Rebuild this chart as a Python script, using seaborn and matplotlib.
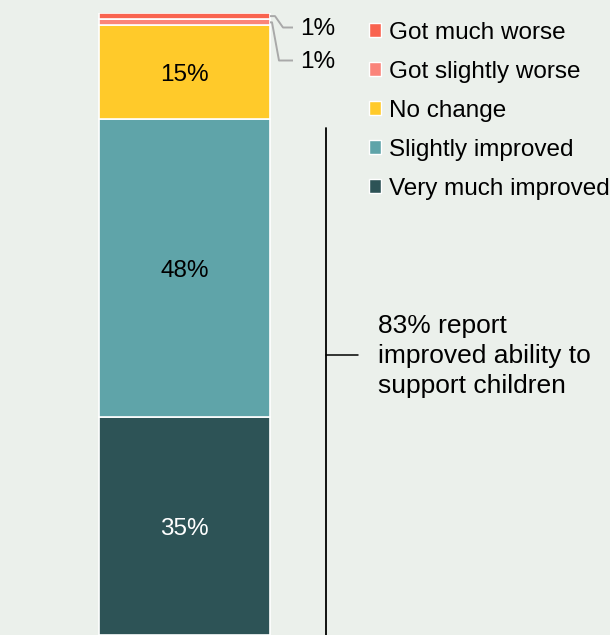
import matplotlib
matplotlib.use("Agg")
import matplotlib.pyplot as plt
from matplotlib.patches import Patch
import seaborn as sns

# Survey responses: change in ability to support children (% of respondents)
categories = ["Very much improved", "Slightly improved", "No change",
              "Got slightly worse", "Got much worse"]
shares = [35, 48, 15, 1, 1]
share_labels = ["35%", "48%", "15%", "1%", "1%"]
colors = ["#2d5356", "#5fa4a9", "#ffca2a", "#fa847a", "#f9634f"]
label_colors = ["white", "black", "black", "black", "black"]
improved_note = "83% report\nimproved ability to\nsupport children"

BG = "#ebf0eb"

sns.set_theme(style="white")
plt.rcParams["font.family"] = ["Liberation Sans", "DejaVu Sans"]
plt.rcParams["text.color"] = "black"

W, H = 610, 635
fig = plt.figure(figsize=(W / 100, H / 100), dpi=100, facecolor=BG)
ax = fig.add_axes([0, 0, 1, 1 - 13 / H])
ax.set_facecolor(BG)

# stacked single bar, one seaborn call per segment
bar_w = 0.8
bottom = 0
bottoms = []
for cat, val, col in zip(categories, shares, colors):
    sns.barplot(x=["All"], y=[val], bottom=bottom, color=col, width=bar_w,
                edgecolor="white", linewidth=1.2, saturation=1, ax=ax)
    bottoms.append(bottom)
    bottom += val

# horizontal layout: bar spans pixels 99..270 of the figure
unit = (270 - 99) / bar_w
x0 = -bar_w / 2 - 99 / unit
ax.set_xlim(x0, x0 + W / unit)
ax.set_ylim(0, 100)
ax.axis("off")

PX_Y = (H - 13) / 100  # pixels per percentage point


def px(p):
    """figure pixel column -> data x"""
    return x0 + p / unit


def py(p):
    """figure pixel row (from top) -> data y"""
    return (H - p) / PX_Y


# labels inside the large segments (nudged to centre the digits optically)
for val, b, lab, lc in zip(shares[:3], bottoms[:3], share_labels[:3], label_colors[:3]):
    ax.text(0, b + val / 2 - 3 / PX_Y, lab, ha="center", va="center",
            fontsize=17.5, color=lc)

# leader lines for the thin segments
right = bar_w / 2
leaders = [
    (bottoms[4] + shares[4] / 2, [275, 283], py(27.5), share_labels[4]),
    (bottoms[3] + shares[3] / 2, [272, 279], py(60.5), share_labels[3]),
]
for ymid, (xa, xb), ylab, lab in leaders:
    ax.plot([right, px(xa), px(xb), px(293)], [ymid, ymid, ylab, ylab],
            color="#a9a9a9", lw=1.4, solid_capstyle="butt", clip_on=False)
    ax.text(px(300), ylab - 1.5 / PX_Y, lab, ha="left", va="center",
            fontsize=17.5, color="black")

# bracket marking the improved share
ax.plot([px(326), px(326)], [0, py(128)], color="black", lw=1.3, clip_on=False)
ax.plot([px(326), px(358)], [py(355), py(355)], color="black", lw=1.1)
ax.text(px(378), py(356), improved_note, ha="left", va="center", fontsize=19,
        color="black", linespacing=1.3)

# legend, worst outcome first
handles = [Patch(facecolor=c, edgecolor="white", linewidth=1.0)
           for c in colors[::-1]]
ax.legend(handles, categories[::-1], loc="upper left",
          bbox_to_anchor=(369 / W, 1 - 22 / H), bbox_transform=fig.transFigure,
          frameon=False, fontsize=17.5, labelcolor="black",
          handlelength=0.5, handleheight=0.5,
          handletextpad=0.33, labelspacing=0.70, borderpad=0, borderaxespad=0)

fig.savefig("out.png", dpi=100, facecolor=BG)
